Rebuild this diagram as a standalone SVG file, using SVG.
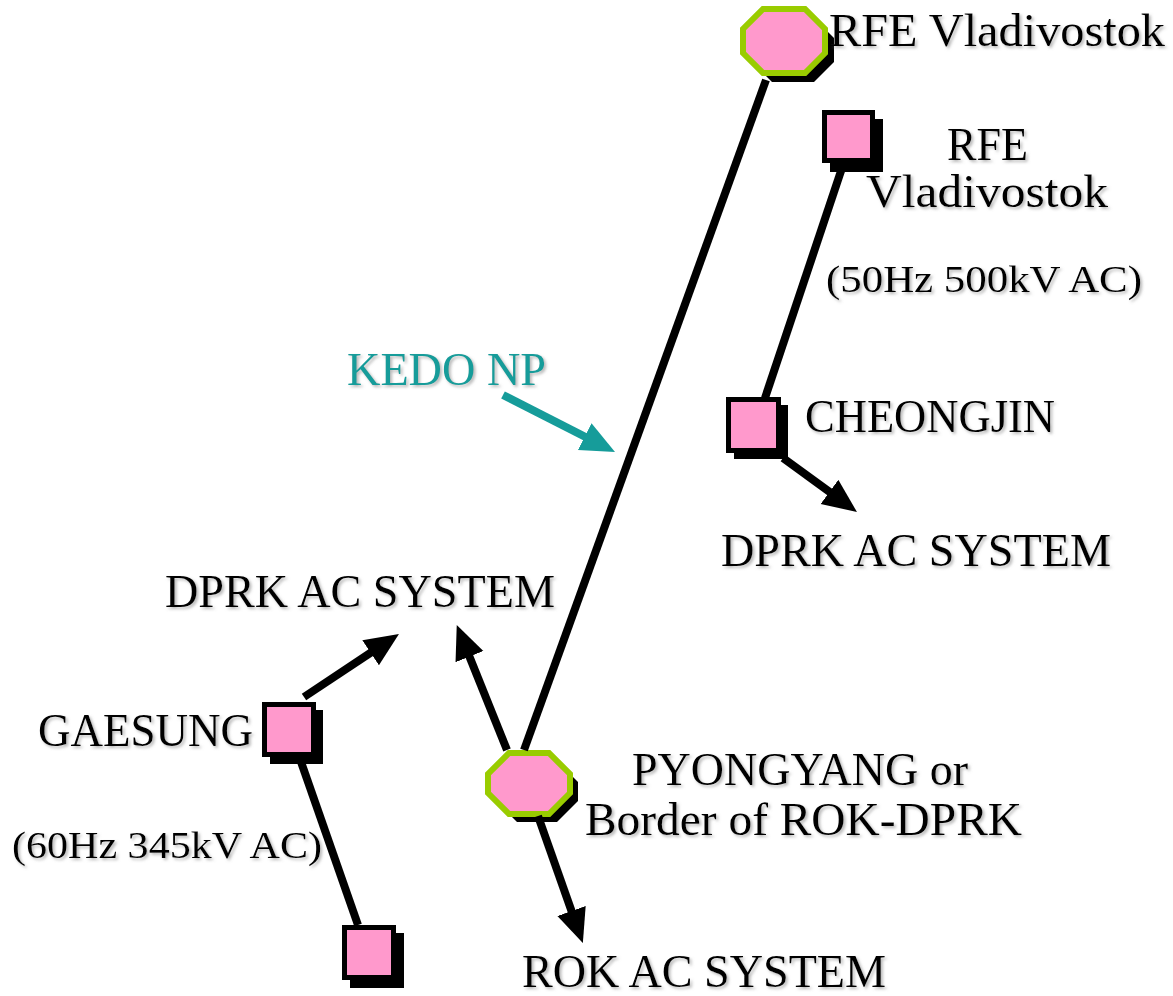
<svg xmlns="http://www.w3.org/2000/svg" width="1173" height="996" viewBox="0 0 1173 996">
<defs>
<filter id="ts" x="-5%" y="-20%" width="110%" height="150%">
<feDropShadow dx="2" dy="2" stdDeviation="1.5" flood-color="#888" flood-opacity="0.6"/>
</filter>
<marker id="ah" markerUnits="userSpaceOnUse" markerWidth="36" markerHeight="32" refX="2" refY="15" orient="auto">
<path d="M0,0 L34,15 L0,30 z" fill="#000"/>
</marker>
<marker id="aht" markerUnits="userSpaceOnUse" markerWidth="36" markerHeight="32" refX="2" refY="15" orient="auto">
<path d="M0,0 L34,15 L0,30 z" fill="#169c9a"/>
</marker>
</defs>
<style>
text{font-family:"Liberation Serif","DejaVu Serif",serif;font-size:46px;fill:#000;filter:url(#ts)}
.sm{font-size:37px}
.teal{fill:#169c9a}
.shadow{fill:#000}
.oct{fill:#ff99cc;stroke:#99cc00;stroke-width:6}
.sq{fill:#ff99cc;stroke:#000;stroke-width:5}
.ln{stroke:#000;stroke-width:8;fill:none}
.arr{stroke:#000;stroke-width:8;fill:none;marker-end:url(#ah)}
.arrt{stroke:#169c9a;stroke-width:8;fill:none;marker-end:url(#aht)}
</style>
<rect width="1173" height="996" fill="#fff"/>

<g id="node-rfe-top">
<path class="shadow" d="M772,18 L814,18 L834,38 L834,62 L814,82 L772,82 L752,62 L752,38 z"/>
<path class="oct" d="M763,9 L805,9 L825,29 L825,53 L805,73 L763,73 L743,53 L743,29 z"/>
<text x="829" y="46" textLength="336" lengthAdjust="spacingAndGlyphs">RFE Vladivostok</text>
</g>

<g id="node-rfe-square">
<rect class="shadow" x="830" y="119" width="53" height="53"/>
<rect class="sq" x="824.5" y="112.5" width="48" height="48"/>
<text x="947" y="160" textLength="81" lengthAdjust="spacingAndGlyphs">RFE</text>
<text x="866" y="207" textLength="242" lengthAdjust="spacingAndGlyphs">Vladivostok</text>
<text class="sm" x="826" y="292" textLength="316" lengthAdjust="spacingAndGlyphs">(50Hz 500kV AC)</text>
</g>

<g id="node-cheongjin">
<rect class="shadow" x="734" y="405" width="54" height="54"/>
<rect class="sq" x="728.5" y="399.5" width="50" height="51"/>
<text x="805" y="432" textLength="250" lengthAdjust="spacingAndGlyphs">CHEONGJIN</text>
</g>

<g id="node-dprk-right">
<text x="721" y="566" textLength="390" lengthAdjust="spacingAndGlyphs">DPRK AC SYSTEM</text>
</g>

<g id="node-kedo">
<text class="teal" x="347" y="385" textLength="199" lengthAdjust="spacingAndGlyphs">KEDO NP</text>
</g>

<g id="node-dprk-left">
<text x="165" y="607" textLength="390" lengthAdjust="spacingAndGlyphs">DPRK AC SYSTEM</text>
</g>

<g id="node-gaesung">
<rect class="shadow" x="270" y="710" width="53" height="54"/>
<rect class="sq" x="264.5" y="704.5" width="49" height="50"/>
<text x="38" y="746" textLength="215" lengthAdjust="spacingAndGlyphs">GAESUNG</text>
<text class="sm" x="12" y="858" textLength="310" lengthAdjust="spacingAndGlyphs">(60Hz 345kV AC)</text>
</g>

<g id="node-bottom-square">
<rect class="shadow" x="350" y="933" width="54" height="55"/>
<rect class="sq" x="344.5" y="927.5" width="49" height="50"/>
</g>

<g id="node-pyongyang">
<path class="shadow" d="M517,761 L557,761 L578,782 L578,801 L557,822 L517,822 L496,801 L496,782 z"/>
<path class="oct" d="M509,753 L549,753 L570,774 L570,793 L549,814 L509,814 L488,793 L488,774 z"/>
<text x="632" y="785" textLength="336" lengthAdjust="spacingAndGlyphs">PYONGYANG or</text>
<text x="585" y="835" textLength="437" lengthAdjust="spacingAndGlyphs">Border of ROK-DPRK</text>
</g>

<g id="node-rok">
<text x="522" y="987" textLength="364" lengthAdjust="spacingAndGlyphs">ROK AC SYSTEM</text>
</g>

<g id="connectors">
<line class="ln" x1="766" y1="80" x2="524" y2="750"/>
<line class="ln" x1="843" y1="165" x2="765" y2="398"/>
<line class="ln" x1="300" y1="759" x2="358" y2="925"/>
<line class="arr" x1="304" y1="697" x2="372.3" y2="651.7"/>
<line class="arr" x1="507" y1="750" x2="468.7" y2="654.8"/>
<line class="arr" x1="538" y1="816" x2="572.2" y2="912.9"/>
<line class="arrt" x1="503" y1="395" x2="586.5" y2="437.5"/>
<line class="arr" x1="783" y1="458" x2="831.1" y2="493.1"/>
</g>
</svg>
